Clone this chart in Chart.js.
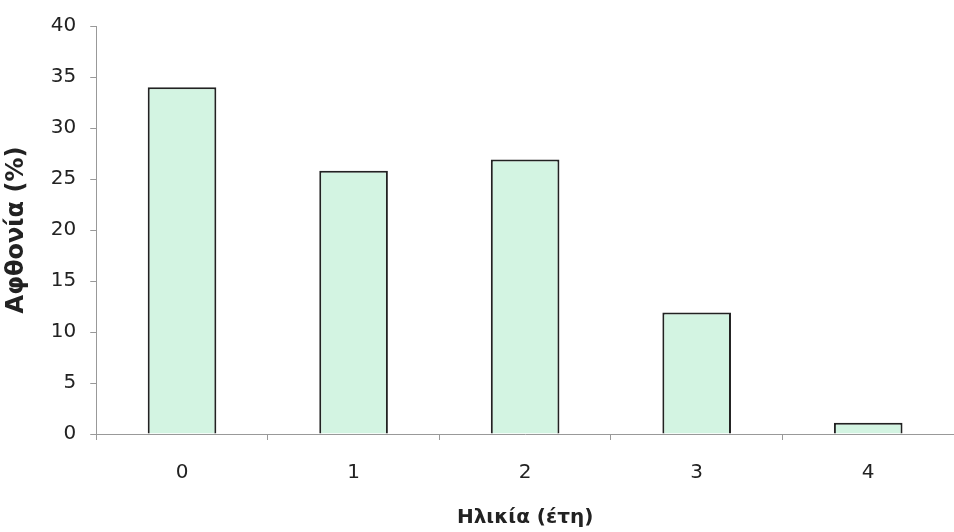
<!DOCTYPE html>
<html>
<head>
<meta charset="utf-8">
<script src="https://cdn.jsdelivr.net/npm/chart.js@4/dist/chart.umd.min.js"></script>
<style>
  html, body { margin: 0; padding: 0; background: #fff; }
  #wrap { width: 954px; height: 532px; }
</style>
</head>
<body>
<div id="wrap"><canvas id="myChart"></canvas></div>
<script>
var ages = ['0', '1', '2', '3', '4'];
var abundance = [34, 25.8, 26.9, 11.9, 1.1];
var yTicks = [0, 5, 10, 15, 20, 25, 30, 35, 40];

var ctx = document.getElementById('myChart');
Chart.defaults.font.family = '"DejaVu Sans", Arial, sans-serif';
Chart.defaults.color = '#222';

var myChart = new Chart(ctx, {
  type: 'bar',
  data: {
    labels: ages,
    datasets: [
      {
        label: 'Αφθονία (%)',
        data: abundance,
        backgroundColor: '#d3f4e2',
        borderColor: '#222',
        borderWidth: 2,
        barPercentage: 0.8,
        categoryPercentage: 0.5
      }
    ]
  },
  options: {
    responsive: true,
    maintainAspectRatio: false,
    animation: false,
    layout: { padding: { top: 15, right: 0, left: 2, bottom: 2 } },
    plugins: {
      legend: { display: false },
      tooltip: { enabled: false }
    },
    scales: {
      x: {
        offset: true,
        grid: {
          offset: true,
          drawOnChartArea: false,
          color: '#999',
          tickLength: 6
        },
        border: { color: '#999', width: 1 },
        ticks: { font: { size: 20 }, padding: 21 },
        title: {
          display: true,
          text: 'Ηλικία (έτη)',
          font: { size: 20, weight: 'bold' },
          padding: { top: 0, bottom: 0 }
        }
      },
      y: {
        min: 0,
        max: 40,
        afterBuildTicks: function (axis) {
          axis.ticks = yTicks.map(function (v) { return { value: v }; });
        },
        grid: {
          drawOnChartArea: false,
          color: '#999',
          tickLength: 6
        },
        border: { color: '#999', width: 1 },
        ticks: { font: { size: 20 }, padding: 14 },
        title: {
          display: true,
          text: 'Αφθονία (%)',
          font: { size: 24, weight: 'bold' },
          padding: { top: 0, bottom: 6 }
        }
      }
    }
  }
});
</script>
</body>
</html>
